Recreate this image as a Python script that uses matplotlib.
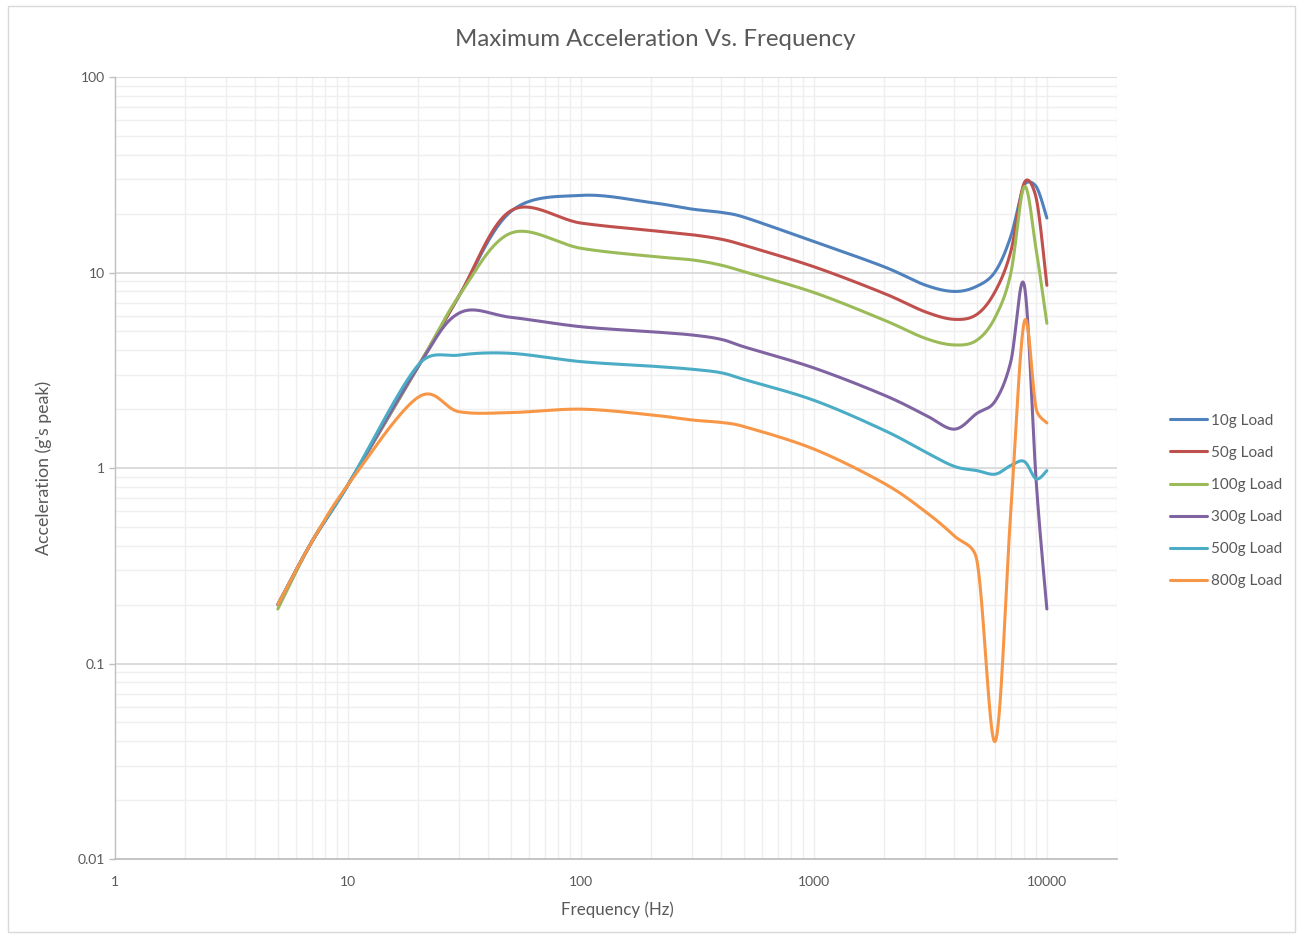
import numpy as np
import matplotlib
matplotlib.use("Agg")
import matplotlib.pyplot as plt
from matplotlib.ticker import FixedLocator, FuncFormatter

# ---------------- data ----------------
freq = [5, 7, 10, 20, 30, 50, 100, 200, 300, 400, 500, 1000,
        2000, 3000, 4000, 5000, 6000, 7000, 8000, 9000, 10000]

load_10g  = [0.20, 0.42, 0.82, 3.3, 7.6, 20.5, 24.8, 22.8, 21.1, 20.3, 19.2, 14.4,
             10.7, 8.63, 8.0, 8.5, 10.1, 15.3, 28.0, 27.5, 19.0]
load_50g  = [0.20, 0.42, 0.82, 3.3, 7.6, 20.7, 17.9, 16.4, 15.6, 14.8, 13.8, 10.7,
             7.82, 6.3, 5.76, 6.1, 8.0, 12.8, 28.8, 24.0, 8.6]
load_100g = [0.19, 0.42, 0.82, 3.3, 7.6, 15.9, 13.3, 12.1, 11.6, 10.9, 10.1, 7.9,
             5.71, 4.61, 4.26, 4.5, 5.9, 9.9, 27.5, 13.0, 5.5]
load_300g = [0.20, 0.42, 0.82, 3.3, 6.2, 5.9, 5.28, 4.98, 4.79, 4.55, 4.17, 3.25,
             2.36, 1.87, 1.58, 1.9, 2.2, 3.5, 8.6, 0.85, 0.19]
load_500g = [0.20, 0.42, 0.82, 3.36, 3.78, 3.86, 3.5, 3.32, 3.2, 3.07, 2.84, 2.22,
             1.56, 1.21, 1.02, 0.97, 0.93, 1.03, 1.08, 0.88, 0.97]
load_800g = [0.20, 0.42, 0.82, 2.3, 1.94, 1.92, 2.0, 1.87, 1.76, 1.71, 1.63, 1.25,
             0.835, 0.6, 0.45, 0.34, 0.04, 0.6, 5.6, 2.0, 1.7]

series_labels = ["10g Load", "50g Load", "100g Load", "300g Load", "500g Load", "800g Load"]
series_values = [load_10g, load_50g, load_100g, load_300g, load_500g, load_800g]
series_colors = ["#4F81BD", "#C0504D", "#9BBB59", "#8064A2", "#4BACC6", "#F79646"]

x_ticks = [1, 10, 100, 1000, 10000]
y_ticks = [0.01, 0.1, 1, 10, 100]
x_limits = (1, 20000)
y_limits = (0.01, 100)

title = "Maximum Acceleration Vs. Frequency"
x_label = "Frequency (Hz)"
y_label = "Acceleration (g's peak)"

# ---------------- figure ----------------
W, H = 1302, 938
fig = plt.figure(figsize=(W / 100, H / 100), dpi=100)
plt.rcParams['font.family'] = ['Lato', 'DejaVu Sans']
txt = "#595959"

ax_l, ax_r, ax_t, ax_b = 115, 1117, 77, 859
ax = fig.add_axes([ax_l / W, 1 - ax_b / H, (ax_r - ax_l) / W, (ax_b - ax_t) / H])
ax.set_xscale("log")
ax.set_yscale("log")
ax.set_xlim(*x_limits)
ax.set_ylim(*y_limits)

# pixels per decade (for Excel-like smoothing in screen space)
px_dec_x = (ax_r - ax_l) / np.log10(x_limits[1] / x_limits[0])
px_dec_y = (ax_b - ax_t) / np.log10(y_limits[1] / y_limits[0])


def smooth(xs, ys, n=80):
    P = np.column_stack([np.log10(xs) * px_dec_x, np.log10(ys) * px_dec_y])
    out = []
    m = len(P)
    for i in range(m - 1):
        p0 = P[i - 1] if i > 0 else P[i]
        p1 = P[i]
        p2 = P[i + 1]
        p3 = P[i + 2] if i + 2 < m else P[i + 1]
        d12 = np.linalg.norm(p2 - p1)
        d02 = np.linalg.norm(p2 - p0)
        d13 = np.linalg.norm(p3 - p1)
        f1 = 1 / 6.0
        f2 = 1 / 6.0
        if d02 * f1 > d12 / 2 and d02 > 0:
            f1 = d12 / 2 / d02
        if d13 * f2 > d12 / 2 and d13 > 0:
            f2 = d12 / 2 / d13
        c1 = p1 + (p2 - p0) * f1
        c2 = p2 - (p3 - p1) * f2
        t = np.linspace(0, 1, n)[:, None]
        seg = ((1 - t) ** 3) * p1 + 3 * ((1 - t) ** 2) * t * c1 + 3 * (1 - t) * t ** 2 * c2 + t ** 3 * p2
        out.append(seg if i == 0 else seg[1:])
    S = np.vstack(out)
    return 10 ** (S[:, 0] / px_dec_x), 10 ** (S[:, 1] / px_dec_y)


# gridlines
minor_x = [k * 10 ** e for e in range(0, 5) for k in range(2, 10) if k * 10 ** e <= x_limits[1]]
minor_y = [k * 10 ** e for e in range(-2, 2) for k in range(2, 10)]
for v in minor_x + x_ticks[1:]:
    ax.axvline(v, color="#efefef", lw=1.0, zorder=0)
for v in minor_y:
    ax.axhline(v, color="#efefef", lw=1.0, zorder=0)
for v in y_ticks[1:]:
    ax.axhline(v, color="#d9d9d9", lw=1.3, zorder=0.5)

for lab, vals, col in zip(series_labels, series_values, series_colors):
    sx, sy = smooth(freq, vals)
    ax.plot(sx, sy, color=col, lw=2.2, label=lab, solid_capstyle="round", zorder=3)

ax.xaxis.set_major_locator(FixedLocator(x_ticks))
ax.yaxis.set_major_locator(FixedLocator(y_ticks))
ax.xaxis.set_minor_locator(FixedLocator([]))
ax.yaxis.set_minor_locator(FixedLocator([]))
fmt = FuncFormatter(lambda v, p: f"{v:g}")
ax.xaxis.set_major_formatter(fmt)
ax.yaxis.set_major_formatter(fmt)
ax.tick_params(axis="x", length=0, pad=12, labelsize=10, colors=txt)
ax.tick_params(axis="y", length=4, width=1, color="#bfbfbf", pad=3, labelsize=10, labelcolor=txt)

for s in ["top", "right"]:
    ax.spines[s].set_visible(False)
ax.spines["left"].set_color("#bfbfbf")
ax.spines["bottom"].set_color("#bfbfbf")
ax.spines["left"].set_linewidth(1.0)
ax.spines["bottom"].set_linewidth(1.3)

fig.text(655 / W, 1 - 40 / H, title, ha="center", va="center", fontsize=17.3, color=txt)
fig.text(617 / W, 1 - 910 / H, x_label, ha="center", va="center", fontsize=12.2, color=txt)
fig.text(44 / W, 1 - 468 / H, y_label, ha="center", va="center", rotation=90, fontsize=12.8, color=txt)

leg = fig.legend(loc="center left", bbox_to_anchor=(1170 / W, 1 - 501 / H), frameon=False,
                 fontsize=11, handlelength=2.42, handletextpad=0.26, labelspacing=1.19,
                 borderaxespad=0, borderpad=0)
for t in leg.get_texts():
    t.set_color(txt)

# chart border
fig.add_artist(plt.Rectangle((8 / W, 6 / H), (1295 - 8) / W, (932 - 6) / H, transform=fig.transFigure,
                             fill=False, edgecolor="#d9d9d9", lw=1.0))

fig.savefig("out.png", dpi=100)
